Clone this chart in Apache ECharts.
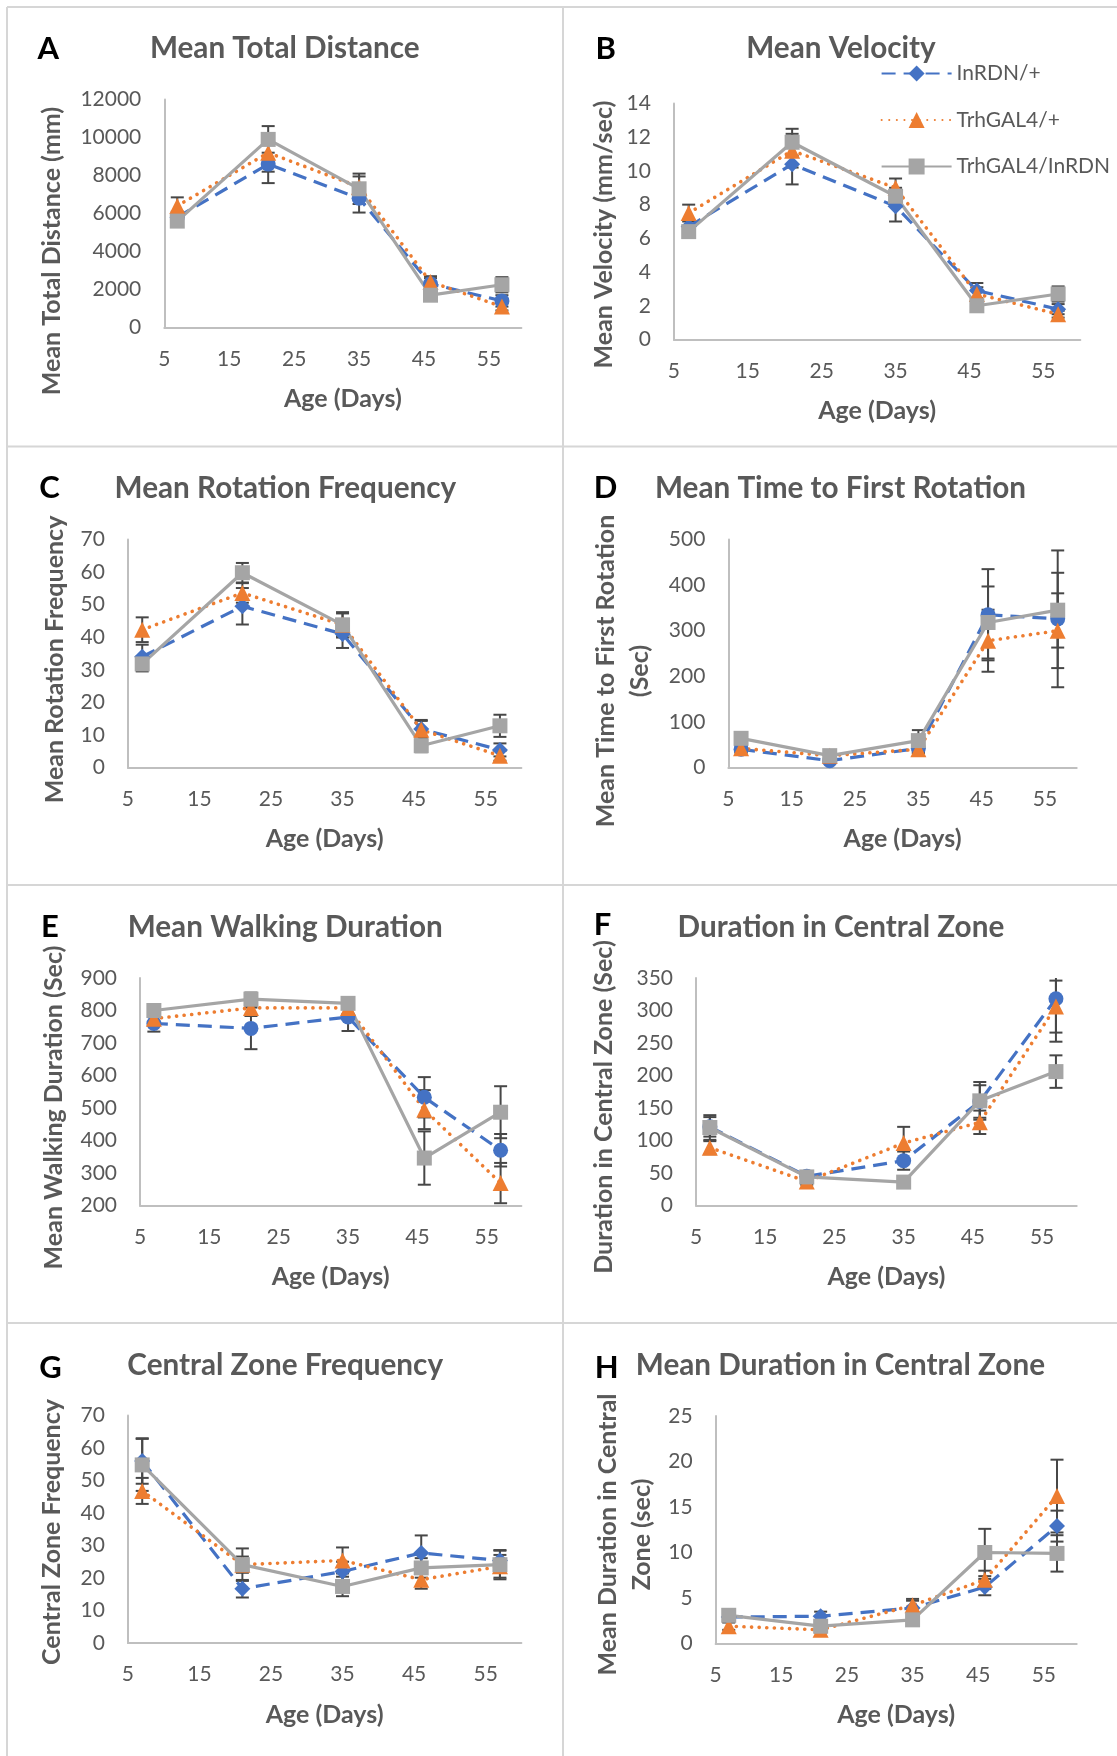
<!DOCTYPE html>
<html>
<head>
<meta charset="utf-8">
<script src="https://cdn.jsdelivr.net/npm/echarts@6/dist/echarts.min.js"></script>
<style>
  html, body { margin: 0; padding: 0; background: #ffffff; }
  #chart { width: 1117px; height: 1756px; }
</style>
</head>
<body>
<div id="chart"></div>
<script>
// Ages (days) at which each genotype was tested
const ages = [7, 21, 35, 46, 57];
const seriesNames = ['InRDN/+', 'TrhGAL4/+', 'TrhGAL4/InRDN'];

// A: Mean Total Distance (mm) — means and error values
const distInR = [5800, 8600, 6800, 2300, 1400];
const distInRErr = [300, 1000, 750, 300, 300];
const distTrh = [6400, 9200, 7400, 2400, 1100];
const distTrhErr = [450, 1000, 550, 300, 200];
const distTI = [5600, 9900, 7300, 1700, 2250];
const distTIErr = [250, 700, 800, 250, 400];

// B: Mean Velocity (mm/sec)
const velInR = [6.7, 10.4, 7.9, 2.9, 1.8];
const velInRErr = [0.4, 1.2, 0.9, 0.45, 0.3];
const velTrh = [7.5, 11.2, 9.0, 2.7, 1.5];
const velTrhErr = [0.5, 1.0, 0.55, 0.4, 0.2];
const velTI = [6.4, 11.7, 8.5, 2.0, 2.7];
const velTIErr = [0.3, 0.8, 0.5, 0.3, 0.45];

// C: Mean Rotation Frequency
const rotInR = [34, 49.5, 41, 11.8, 5.4];
const rotInRErr = [3.7, 5.6, 4.3, 2.5, 2];
const rotTrh = [42.3, 53.6, 43.8, 11.6, 3.6];
const rotTrhErr = [3.8, 3, 3.5, 3, 1.5];
const rotTI = [31.8, 59.8, 43.8, 6.7, 12.8];
const rotTIErr = [2.3, 3, 3.9, 2, 3.4];

// D: Mean Time to First Rotation (sec)
const firstInR = [40, 15, 42, 335, 326];
const firstInRErr = [8, 5, 10, 100, 150];
const firstTrh = [42, 26, 40, 278, 300];
const firstTrhErr = [8, 5, 8, 68, 82];
const firstTI = [64, 26, 59, 318, 345];
const firstTIErr = [10, 6, 23, 79, 82];

// E: Mean Walking Duration (sec)
const walkInR = [760, 745, 780, 533, 370];
const walkInRErr = [25, 64, 43, 62, 50];
const walkTrh = [775, 808, 808, 495, 269];
const walkTrhErr = [20, 25, 20, 60, 62];
const walkTI = [800, 835, 822, 346, 487];
const walkTIErr = [15, 20, 15, 82, 80];

// F: Duration in Central Zone (sec)
const zoneDurInR = [121, 45, 69, 160, 318];
const zoneDurInRErr = [15, 5, 14, 25, 66];
const zoneDurTrh = [89, 37, 96, 128, 306];
const zoneDurTrhErr = [10, 5, 25, 18, 40];
const zoneDurTI = [120, 44, 36, 161, 206];
const zoneDurTIErr = [19, 6, 5, 29, 25];

// G: Central Zone Frequency
const zoneFreqInR = [56, 16.7, 22, 27.7, 25.4];
const zoneFreqInRErr = [7, 2.7, 3, 5.4, 3];
const zoneFreqTrh = [46.8, 24.1, 25.4, 19.5, 23.6];
const zoneFreqTrhErr = [4, 2.5, 4, 2.8, 3.5];
const zoneFreqTI = [54.8, 24.1, 17.4, 23.1, 24.1];
const zoneFreqTIErr = [8, 5, 3, 3, 4.5];

// H: Mean Duration in Central Zone (sec)
const meanZoneInR = [2.9, 3.0, 3.9, 6.2, 12.9];
const meanZoneInRErr = [0.5, 0.5, 0.8, 0.9, 1.7];
const meanZoneTrh = [1.9, 1.5, 4.2, 7.0, 16.2];
const meanZoneTrhErr = [0.4, 0.3, 0.7, 1.0, 4.0];
const meanZoneTI = [3.1, 1.9, 2.6, 10.0, 9.9];
const meanZoneTIErr = [0.6, 0.4, 0.5, 2.6, 2.0];

const FONT = 'Lato, "Open Sans", sans-serif';
const TEXT_GREY = '#595959';
const COLORS = ['#4472C4', '#ED7D31', '#A5A5A5'];

// Panel layout: plot box, y scale, and text placement
const panels = [
  { letter: 'A', title: 'Mean Total Distance', yTitle: 'Mean Total Distance (mm)',
    grid: { left: 164.3, top: 99.5, width: 357.1, height: 228 },
    y: { min: 0, max: 12000, interval: 2000 }, inrSymbol: 'circle',
    values: [distInR, distTrh, distTI], errors: [distInRErr, distTrhErr, distTIErr],
    letterPos: [37.5, 49], titlePos: [284.8, 48], yTitlePos: [51.8, 251] },
  { letter: 'B', title: 'Mean Velocity', yTitle: 'Mean Velocity (mm/sec)',
    grid: { left: 673.9, top: 103.5, width: 406.4, height: 236 },
    y: { min: 0, max: 14, interval: 2 }, inrSymbol: 'diamond',
    values: [velInR, velTrh, velTI], errors: [velInRErr, velTrhErr, velTIErr],
    letterPos: [595.4, 49], titlePos: [841, 48], yTitlePos: [604.3, 234.5] },
  { letter: 'C', title: 'Mean Rotation Frequency', yTitle: 'Mean Rotation Frequency',
    grid: { left: 127.9, top: 539.5, width: 393.5, height: 228 },
    y: { min: 0, max: 70, interval: 10 }, inrSymbol: 'diamond',
    values: [rotInR, rotTrh, rotTI], errors: [rotInRErr, rotTrhErr, rotTIErr],
    letterPos: [39.3, 488], titlePos: [285.4, 488], yTitlePos: [55.4, 659.5] },
  { letter: 'D', title: 'Mean Time to First Rotation', yTitle: 'Mean Time to First Rotation\n(Sec)',
    grid: { left: 728.4, top: 539.5, width: 348.3, height: 228 },
    y: { min: 0, max: 500, interval: 100 }, inrSymbol: 'circle',
    values: [firstInR, firstTrh, firstTI], errors: [firstInRErr, firstTrhErr, firstTIErr],
    letterPos: [593.7, 488], titlePos: [840.5, 488], yTitlePos: [623, 671] },
  { letter: 'E', title: 'Mean Walking Duration', yTitle: 'Mean Walking Duration (Sec)',
    grid: { left: 140, top: 978, width: 381.4, height: 227.5 },
    y: { min: 200, max: 900, interval: 100 }, inrSymbol: 'circle',
    values: [walkInR, walkTrh, walkTI], errors: [walkInRErr, walkTrhErr, walkTIErr],
    letterPos: [41, 927], titlePos: [285.2, 927], yTitlePos: [53.6, 1107.5] },
  { letter: 'F', title: 'Duration in Central Zone', yTitle: 'Duration in Central Zone (Sec)',
    grid: { left: 696, top: 978, width: 380.7, height: 227.5 },
    y: { min: 0, max: 350, interval: 50 }, inrSymbol: 'circle',
    values: [zoneDurInR, zoneDurTrh, zoneDurTI], errors: [zoneDurInRErr, zoneDurTrhErr, zoneDurTIErr],
    letterPos: [593.7, 925], titlePos: [840.9, 927], yTitlePos: [604.3, 1107] },
  { letter: 'G', title: 'Central Zone Frequency', yTitle: 'Central Zone Frequency',
    grid: { left: 127.9, top: 1415.5, width: 393.5, height: 227.5 },
    y: { min: 0, max: 70, interval: 10 }, inrSymbol: 'diamond',
    values: [zoneFreqInR, zoneFreqTrh, zoneFreqTI], errors: [zoneFreqInRErr, zoneFreqTrhErr, zoneFreqTIErr],
    letterPos: [39.3, 1368], titlePos: [285.2, 1365], yTitlePos: [51.8, 1532] },
  { letter: 'H', title: 'Mean Duration in Central Zone', yTitle: 'Mean Duration in Central\nZone (sec)',
    grid: { left: 715.6, top: 1416, width: 361.1, height: 227.5 },
    y: { min: 0, max: 25, interval: 5 }, inrSymbol: 'diamond',
    values: [meanZoneInR, meanZoneTrh, meanZoneTI], errors: [meanZoneInRErr, meanZoneTrhErr, meanZoneTIErr],
    letterPos: [594.7, 1368], titlePos: [840.4, 1365], yTitlePos: [625.4, 1534.5] }
];

const axisLineStyle = { lineStyle: { color: '#BFBFBF', width: 2 } };

const grids = [], xAxes = [], yAxes = [], graphics = [];

panels.forEach((p, i) => {
  grids.push(Object.assign({ containLabel: false }, p.grid));
  xAxes.push({
    type: 'value', gridIndex: i, min: 5, max: 60, interval: 10,
    axisLine: axisLineStyle, axisTick: { show: false }, splitLine: { show: false },
    axisLabel: {
      showMaxLabel: false, margin: 21, color: TEXT_GREY, fontSize: 21, fontFamily: FONT,
      formatter: v => ((v - 5) % 10 === 0 ? String(v) : '')
    },
    name: 'Age (Days)', nameLocation: 'middle', nameGap: 59,
    nameTextStyle: { color: TEXT_GREY, fontSize: 25, fontWeight: 'bold', fontFamily: FONT }
  });
  yAxes.push({
    type: 'value', gridIndex: i, min: p.y.min, max: p.y.max, interval: p.y.interval,
    axisLine: Object.assign({ show: true }, axisLineStyle), axisTick: { show: false },
    splitLine: { show: false },
    axisLabel: { margin: 23, color: TEXT_GREY, fontSize: 21, fontFamily: FONT, formatter: v => String(v) }
  });
  graphics.push({
    type: 'text', x: p.letterPos[0], y: p.letterPos[1], silent: true,
    style: { text: p.letter, fill: '#000000', font: 'bold 31px ' + FONT, textAlign: 'left', textVerticalAlign: 'middle' }
  });
  graphics.push({
    type: 'text', x: p.titlePos[0], y: p.titlePos[1], silent: true,
    style: { text: p.title, fill: TEXT_GREY, font: 'bold 29.7px ' + FONT, textAlign: 'center', textVerticalAlign: 'middle' }
  });
  graphics.push({
    type: 'text', x: p.yTitlePos[0], y: p.yTitlePos[1], rotation: Math.PI / 2, silent: true,
    style: { text: p.yTitle, fill: TEXT_GREY, font: 'bold 25px ' + FONT, lineHeight: 34,
             textAlign: 'center', textVerticalAlign: 'middle' }
  });
});

// Panel frame lines
const FRAME = '#D6D6D6';
[[7, 7, 1117, 7], [7, 446.5, 1117, 446.5], [7, 885, 1117, 885], [7, 1323, 1117, 1323],
 [7, 7, 7, 1756], [563, 7, 563, 1756]].forEach(s => {
  graphics.push({ type: 'line', silent: true, z: -1,
    shape: { x1: s[0], y1: s[1], x2: s[2], y2: s[3] }, style: { stroke: FRAME, lineWidth: 2 } });
});

// Vertical error bars with caps, clipped to the plot box
function errorBars(gridIdx, values, errs) {
  return {
    type: 'custom', xAxisIndex: gridIdx, yAxisIndex: gridIdx, z: 1, silent: true,
    data: ages.map((a, k) => [a, values[k], errs[k]]),
    encode: { x: 0, y: 1 },
    renderItem(params, api) {
      const x = api.value(0), v = api.value(1), e = api.value(2);
      const hi = api.coord([x, v + e]);
      const lo = api.coord([x, v - e]);
      const cs = params.coordSys;
      const yTop = Math.max(hi[1], cs.y);
      const yBot = Math.min(lo[1], cs.y + cs.height);
      const style = { stroke: '#474747', lineWidth: 2 };
      const hw = 6.5;
      const children = [{ type: 'line', shape: { x1: hi[0], y1: yTop, x2: hi[0], y2: yBot }, style }];
      if (hi[1] >= cs.y) children.push({ type: 'line', shape: { x1: hi[0] - hw, y1: yTop, x2: hi[0] + hw, y2: yTop }, style });
      if (lo[1] <= cs.y + cs.height) children.push({ type: 'line', shape: { x1: lo[0] - hw, y1: yBot, x2: lo[0] + hw, y2: yBot }, style });
      return { type: 'group', children };
    }
  };
}

const lineStyles = [
  { color: COLORS[0], width: 3.2, type: [14, 8] },
  { color: COLORS[1], width: 3.6, type: [0.1, 7.5], cap: 'round' },
  { color: COLORS[2], width: 3.2, type: 'solid' }
];

const series = [];
// Panel B first so the legend picks up its markers
const order = [1, 0, 2, 3, 4, 5, 6, 7];
order.forEach(i => {
  const p = panels[i];
  [0, 1, 2].forEach(s => series.push(errorBars(i, p.values[s], p.errors[s])));
  [0, 1, 2].forEach(s => {
    const symbol = s === 0 ? p.inrSymbol : (s === 1 ? 'triangle' : 'rect');
    const size = s === 0 ? (p.inrSymbol === 'diamond' ? 16 : 15) : (s === 1 ? 16 : 15);
    series.push({
      type: 'line', name: seriesNames[s], xAxisIndex: i, yAxisIndex: i, z: 3,
      data: ages.map((a, k) => [a, p.values[s][k]]),
      symbol, symbolSize: size, showSymbol: true,
      itemStyle: { color: COLORS[s], borderWidth: 0 },
      lineStyle: lineStyles[s],
      emphasis: { disabled: true }
    });
  });
});

const chart = echarts.init(document.getElementById('chart'), null, { renderer: 'canvas' });
chart.setOption({
  animation: false,
  backgroundColor: '#ffffff',
  textStyle: { fontFamily: FONT },
  grid: grids,
  xAxis: xAxes,
  yAxis: yAxes,
  legend: {
    data: seriesNames, orient: 'vertical', left: 880.6, top: 63, padding: 0,
    itemWidth: 70, itemHeight: 20, itemGap: 25.5,
    textStyle: { color: TEXT_GREY, fontSize: 21, fontFamily: FONT },
    selectedMode: false
  },
  graphic: graphics,
  series
});
</script>
</body>
</html>
